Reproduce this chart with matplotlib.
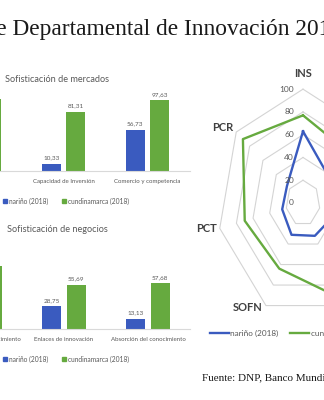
import numpy as np
import matplotlib
matplotlib.use('Agg')
import matplotlib.pyplot as plt
from matplotlib.lines import Line2D
from matplotlib.patches import Patch

blue = '#3a5bbf'
green = '#66aa3f'
grey_txt = '#595959'
sans = ['Liberation Sans Narrow', 'Lato', 'DejaVu Sans']
serif = ['Liberation Serif', 'DejaVu Serif']

series_names = ['nariño (2018)', 'cundinamarca (2018)']

# Sofisticación de mercados
merc_cats = ['Crédito', 'Capacidad de Inversión', 'Comercio y competencia']
merc_narino = [35.0, 10.33, 56.73]
merc_cundi = [99.0, 81.31, 97.63]

# Sofisticación de negocios
neg_cats = ['Trabajadores de conocimiento', 'Enlaces de innovación', 'Absorción del conocimiento']
neg_narino = [48.0, 28.75, 13.13]
neg_cundi = [80.0, 55.69, 57.68]

# radar pillars
pillars = ['INS', 'CHI', 'INF', 'SOFM', 'SOFN', 'PCT', 'PCR']
radar_narino = [63, 38, 40, 32, 31, 25, 24]
radar_cundi = [77, 70, 70, 91, 64, 70, 90]
radar_ticks = [0, 20, 40, 60, 80, 100]

W, H = 324, 400
fig = plt.figure(figsize=(W / 100, H / 100), dpi=100)


def px(x0, y0, w, h):
    # pixel box (top-left origin) -> figure fraction rect
    return [x0 / W, 1 - (y0 + h) / H, w / W, h / H]


def fmt(v):
    return f'{v:.2f}'.replace('.', ',')


def bar_panel(rect, cats, narino, cundi, ymax, title, title_y, legend_y):
    ax = fig.add_axes(rect)
    x = np.arange(len(cats))
    b1 = ax.bar(x - 0.145, narino, 0.222, color=blue)
    b2 = ax.bar(x + 0.145, cundi, 0.222, color=green)
    for bars, vals in ((b1, narino), (b2, cundi)):
        for b, v in zip(bars, vals):
            ax.annotate(fmt(v), (b.get_x() + b.get_width() / 2, v), xytext=(0, 2.5),
                        textcoords='offset points', ha='center', va='bottom',
                        fontsize=4.6, color=grey_txt, family=sans)
    ax.set_xlim(-0.5, len(cats) - 0.5)
    ax.set_ylim(0, ymax)
    ax.set_xticks(x)
    ax.set_xticklabels(cats, fontsize=4.4, color=grey_txt, family=sans)
    ax.tick_params(axis='x', length=0, pad=6)
    ax.set_yticks([])
    for s in ('top', 'left', 'right'):
        ax.spines[s].set_visible(False)
    ax.spines['bottom'].set_color('#d9d9d9')
    ax.spines['bottom'].set_linewidth(0.8)
    ax.patch.set_visible(False)
    fig.text(57 / W, 1 - title_y / H, title, ha='center', va='center',
             fontsize=6.6, color=grey_txt, family=sans)
    handles = [Patch(color=blue), Patch(color=green)]
    fig.legend(handles, series_names, loc='center left', bbox_to_anchor=(3 / W, 1 - legend_y / H),
               ncol=2, frameon=False, handlelength=0.55, handleheight=0.7, handletextpad=0.3,
               columnspacing=2.2, borderpad=0, borderaxespad=0,
               prop={'family': sans, 'size': 4.8}, labelcolor=grey_txt)
    return ax


bar_panel(px(-62.5, 84, 252, 87), merc_cats, merc_narino, merc_cundi, 120,
          'Sofisticación de mercados', 80, 201)
bar_panel(px(-62, 250, 252, 79), neg_cats, neg_narino, neg_cundi, 100,
          'Sofisticación de negocios', 230, 359)

# radar (the source image is squeezed horizontally, so x and y scales differ)
axr = fig.add_axes(px(192, 55, 222, 296))
axr.set_xlim(-130, 130)
axr.set_ylim(-130, 130)
axr.axis('off')
ang = np.deg2rad(90 - np.arange(len(pillars)) * 360 / len(pillars))
ang_c = np.append(ang, ang[0])
for r in radar_ticks[1:]:
    axr.plot(r * np.cos(ang_c), r * np.sin(ang_c), color='#d4d4d4', lw=0.8)
for vals, col, name in ((radar_narino, blue, series_names[0]), (radar_cundi, green, series_names[1])):
    v = np.append(vals, vals[0])
    axr.plot(v * np.cos(ang_c), v * np.sin(ang_c), color=col, lw=1.7, label=name)
for r in radar_ticks:
    axr.text(-10.5, r, str(r), ha='right', va='center', fontsize=6, color=grey_txt, family=sans)

lab_off = {'INS': ((0, 11.5), 'center'), 'CHI': ((3, 3), 'left'), 'INF': ((3, 0), 'left'),
           'SOFM': ((3, -2), 'left'), 'SOFN': ((-2.5, -1.5), 'right'),
           'PCT': ((-2, 0), 'right'), 'PCR': ((-2, 3), 'right')}
for name, a in zip(pillars, ang):
    off, ha = lab_off[name]
    axr.annotate(name, (100 * np.cos(a), 100 * np.sin(a)), xytext=off, textcoords='offset points',
                 ha=ha, va='center', fontsize=8, fontweight='bold', color='#404040', family=sans)

fig.legend(handles=[Line2D([], [], color=blue, lw=1.7), Line2D([], [], color=green, lw=1.7)],
           labels=series_names, loc='center left', bbox_to_anchor=(210 / W, 1 - 333 / H),
           ncol=2, frameon=False, handlelength=2.3, handletextpad=0.2, columnspacing=1.4,
           borderpad=0, borderaxespad=0, prop={'family': sans, 'size': 5.9}, labelcolor=grey_txt)

fig.text(-52 / W, 1 - 35 / H, 'Índice Departamental de Innovación 2018', ha='left', va='baseline',
         fontsize=16.8, family=serif, color='#1a1a1a')
fig.text(202 / W, 1 - 378 / H, 'Fuente: DNP, Banco Mundial', ha='left', va='center',
         fontsize=8, family=serif, color='#1a1a1a')

fig.savefig('out.png', dpi=100)
